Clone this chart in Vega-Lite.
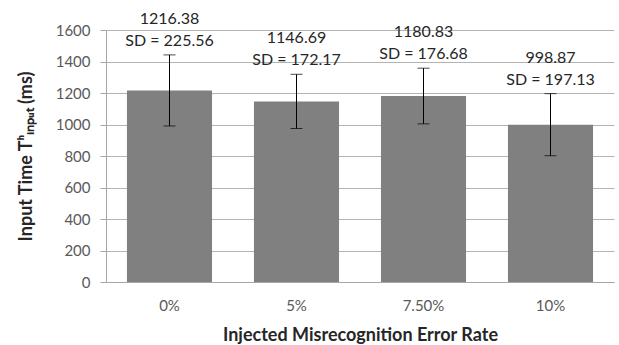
{
  "$schema": "https://vega.github.io/schema/vega-lite/v6.json",
  "width": 508,
  "height": 252,
  "autosize": {"type": "none"},
  "padding": {"left": 106, "top": 30, "right": 5, "bottom": 63},
  "background": "white",
  "config": {
    "font": "Lato",
    "view": {"stroke": null},
    "axis": {"labelFont": "Lato", "titleFont": "Lato"},
    "axisY": {
      "tickCount": 8,
      "format": "d",
      "labelOverlap": false,
      "labelFontSize": 15,
      "labelColor": "#595959",
      "labelPadding": 10,
      "tickSize": 6,
      "tickColor": "#a6a6a6",
      "domainColor": "#a6a6a6",
      "gridColor": "#b3b3b3",
      "titleFontSize": 18,
      "titleFontWeight": "bold",
      "titleColor": "#262626",
      "titlePadding": 20
    }
  },
  "data": {
    "values": [
      {"rate": "0%", "mean": 1216.38, "sd": 225.56, "low": 990.82, "high": 1441.94, "valueLabel": "1216.38", "sdLabel": "SD = 225.56"},
      {"rate": "5%", "mean": 1146.69, "sd": 172.17, "low": 974.52, "high": 1318.86, "valueLabel": "1146.69", "sdLabel": "SD = 172.17"},
      {"rate": "7.50%", "mean": 1180.83, "sd": 176.68, "low": 1004.15, "high": 1357.51, "valueLabel": "1180.83", "sdLabel": "SD = 176.68"},
      {"rate": "10%", "mean": 998.87, "sd": 197.13, "low": 801.74, "high": 1196.0, "valueLabel": "998.87", "sdLabel": "SD = 197.13"}
    ]
  },
  "encoding": {
    "x": {
      "field": "rate",
      "type": "nominal",
      "sort": null,
      "scale": {"paddingInner": 0.33, "paddingOuter": 0.165},
      "axis": {
        "title": "Injected Misrecognition Error Rate",
        "labelAngle": 0,
        "labelFontSize": 15,
        "labelColor": "#595959",
        "labelPadding": 16,
        "ticks": false,
        "domainColor": "#a6a6a6",
        "titleFontSize": 18,
        "titleFontWeight": "bold",
        "titleColor": "#262626",
        "titlePadding": 13
      }
    }
  },
  "layer": [
    {
      "mark": {"type": "bar", "color": "#808080"},
      "encoding": {
        "y": {
          "field": "mean",
          "type": "quantitative",
          "scale": {"domain": [0, 1600], "nice": false},
          "axis": {"title": "Input Time Tʰᵢₙₚᵤₜ (ms)"}
        }
      }
    },
    {
      "mark": {"type": "rule", "color": "black", "strokeWidth": 1},
      "encoding": {
        "y": {"field": "low", "type": "quantitative"},
        "y2": {"field": "high"}
      }
    },
    {
      "mark": {"type": "tick", "color": "black", "thickness": 1, "size": 12},
      "encoding": {"y": {"field": "low", "type": "quantitative"}}
    },
    {
      "mark": {"type": "tick", "color": "black", "thickness": 1, "size": 12},
      "encoding": {"y": {"field": "high", "type": "quantitative"}}
    },
    {
      "mark": {"type": "text", "fontSize": 16, "color": "#262626", "baseline": "middle", "dy": -14},
      "encoding": {
        "y": {"field": "high", "type": "quantitative"},
        "text": {"field": "sdLabel"}
      }
    },
    {
      "mark": {"type": "text", "fontSize": 16, "color": "#262626", "baseline": "middle", "dy": -36},
      "encoding": {
        "y": {"field": "high", "type": "quantitative"},
        "text": {"field": "valueLabel"}
      }
    }
  ]
}
